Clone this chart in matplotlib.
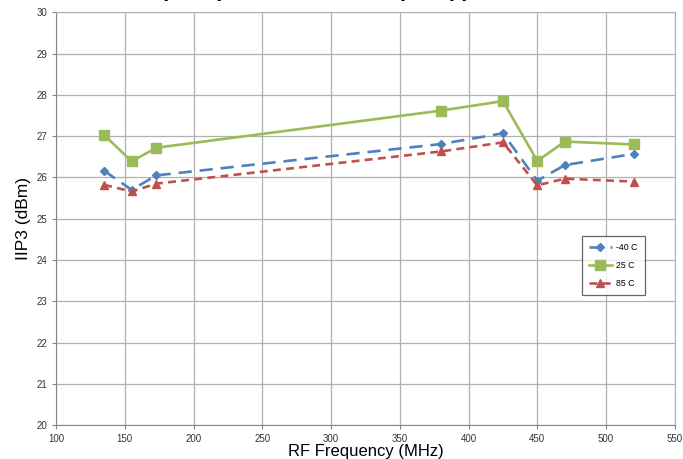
import matplotlib
matplotlib.use("Agg")
import matplotlib.pyplot as plt

# Frequencies (MHz) and IIP3 (dBm) at each temperature
freq = [135, 155, 173, 380, 425, 450, 470, 520]
iip3_m40 = [26.16, 25.70, 26.05, 26.81, 27.07, 25.92, 26.30, 26.57]
iip3_25 = [27.03, 26.39, 26.72, 27.62, 27.85, 26.40, 26.87, 26.80]
iip3_85 = [25.82, 25.66, 25.85, 26.63, 26.85, 25.81, 25.97, 25.90]

x_ticks = list(range(100, 551, 50))
y_ticks = list(range(20, 31))

plt.rcParams['font.family'] = ['Liberation Sans', 'DejaVu Sans']

fig = plt.figure(figsize=(6.83, 4.59), dpi=100)
ax = fig.add_axes([0.082, 0.074, 0.906, 0.899])

# Chart title sits above the canvas in the reference, only descenders show
fig.text(0.168, 1.009, "IIP3 (dBm) vs. RF Channel (Temp)", fontsize=16,
         fontweight='bold', ha='left', va='baseline')

ax.plot(freq, iip3_m40, color='#4F81BD', linestyle=(0, (5, 3)), linewidth=1.9,
        marker='D', markersize=4.5, label='-40 C')
ax.plot(freq, iip3_25, color='#9BBB59', linestyle='-', linewidth=1.9,
        marker='s', markersize=6.5, label='25 C')
ax.plot(freq, iip3_85, color='#C0504D', linestyle=(0, (3, 2)), linewidth=1.9,
        marker='^', markersize=6, label='85 C')

ax.set_xlim(100, 550)
ax.set_ylim(20, 30)
ax.set_xticks(x_ticks)
ax.set_yticks(y_ticks)
ax.tick_params(axis='both', labelsize=7, color='#868686', length=3,
               labelcolor='#333333')
ax.grid(True, color='#b0b0b0', linewidth=0.9)
ax.set_axisbelow(True)

for side in ['top', 'right']:
    ax.spines[side].set_color('#b0b0b0')
for side in ['left', 'bottom']:
    ax.spines[side].set_color('#868686')

ax.set_xlabel("RF Frequency (MHz)", fontsize=12, labelpad=0)
ax.set_ylabel("IIP3 (dBm)", fontsize=12.5, labelpad=4)

leg = ax.legend(loc='lower left', bbox_to_anchor=(0.843, 0.305), fontsize=6.3,
                frameon=True, fancybox=False, handlelength=2.6,
                borderpad=0.8, labelspacing=1.0, handletextpad=0.5)
leg.get_frame().set_edgecolor('#404040')
leg.get_frame().set_linewidth(0.9)

fig.savefig("out.png", dpi=100)
